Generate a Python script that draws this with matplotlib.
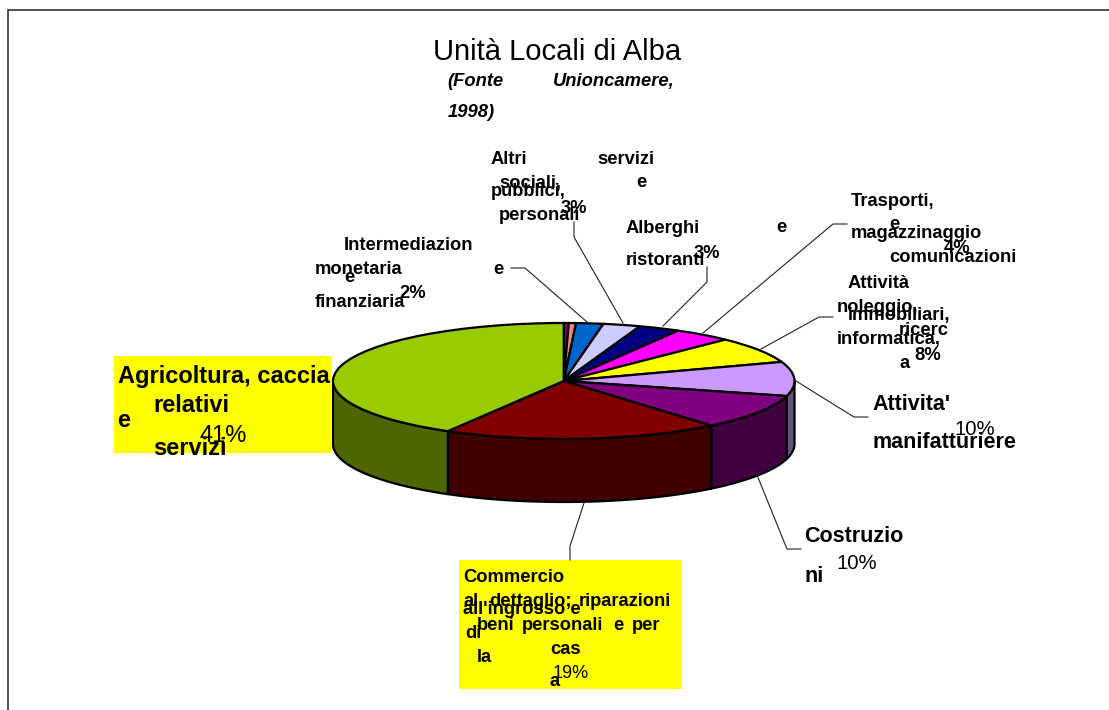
import numpy as np
import matplotlib
matplotlib.use('Agg')
import matplotlib.pyplot as plt
from matplotlib.patches import Rectangle

W, H = 1109, 710
FONT = 'Liberation Sans'

# clockwise from the top of the pie
slice_names = ['Altro', 'Estrazione', 'Intermediazione', 'Altri servizi', 'Alberghi',
               'Trasporti', 'Attivita immobiliari', 'Manifatturiere', 'Costruzioni',
               'Commercio', 'Agricoltura']
slice_values = [0.35, 0.5, 1.9, 2.6, 2.9, 4.1, 7.3, 9.5, 9.8, 19.4, 41.6]
top_colors = ['#800080', '#FF8080', '#0066CC', '#CCCCFF', '#000080', '#FF00FF',
              '#FFFF00', '#CC99FF', '#800080', '#800000', '#99CC00']
side_colors = ['#400040', '#804040', '#003366', '#666680', '#000040', '#800080',
               '#808000', '#665080', '#400040', '#400000', '#4D6600']

title = 'Unità Locali di Alba'
S, M, L = 13.2, 15.5, 17
# text, x, y (pixel, left / baseline), size, bold, italic
labels = [
    ('(Fonte', 447, 86, S, True, True), ('Unioncamere,', 553, 86, S, True, True),
    ('1998)', 448, 117, S, True, True),
    ('Altri', 491, 164, S, True, False), ('servizi', 597, 164, S, True, False),
    ('sociali,', 499, 188, S, True, False), ('e', 636, 187, S, True, False),
    ('pubblici,', 491, 196, S, True, False), ('personali', 499, 220, S, True, False),
    ('3%', 561, 213, S, True, False),
    ('Alberghi', 626, 233, S, True, False), ('e', 776, 232, S, True, False),
    ('ristoranti', 626, 265, S, True, False), ('3%', 694, 258, S, True, False),
    ('Intermediazion', 344, 250, S, True, False), ('monetaria', 315, 274, S, True, False),
    ('e', 493, 274, S, True, False), ('e', 344, 282, S, True, False),
    ('finanziaria', 315, 307, S, True, False), ('2%', 399, 298, S, True, False),
    ('Trasporti,', 851, 206, S, True, False), ('e', 889, 229, S, True, False),
    ('magazzinaggio', 851, 238, S, True, False), ('4%', 944, 253, S, True, False),
    ('comunicazioni', 889, 262, S, True, False),
    ('Attività', 848, 288, S, True, False), ('noleggio,', 837, 312, S, True, False),
    ('immobiliari,', 848, 320, S, True, False), ('ricerc', 899, 335, S, True, False),
    ('informatica,', 837, 344, S, True, False), ('8%', 914, 360, S, True, False),
    ('a', 899, 368, S, True, False),
    ('Attivita\'', 872, 410, M, True, False), ('10%', 955, 435, 14.7, False, False),
    ('manifatturiere', 872, 448, M, True, False),
    ('Costruzio', 804, 542, M, True, False), ('10%', 837, 569, 14.7, False, False),
    ('ni', 804, 582, M, True, False),
    ('Commercio', 463, 582, S, True, False), ('al', 463, 606, S, True, False),
    ('dettaglio;', 489, 606, S, True, False), ('riparazioni', 579, 606, S, True, False),
    ('all\'ingrosso e', 463, 614, S, True, False), ('beni', 477, 630, S, True, False),
    ('personali', 522, 630, S, True, False), ('e', 613, 630, S, True, False),
    ('per', 632, 630, S, True, False), ('di', 465, 638, S, True, False),
    ('cas', 550, 654, S, True, False), ('la', 477, 662, S, True, False),
    ('19%', 553, 678, 13, False, False), ('a', 550, 686, S, True, False),
    ('Agricoltura, caccia', 118, 383, L, True, False), ('relativi', 153, 412, L, True, False),
    ('e', 117, 427, L, True, False), ('41%', 200, 442, L, False, False),
    ('servizi', 153, 455, L, True, False),
]
# leader lines as pixel polylines
leaders = [
    ([511, 525, 587], [268, 268, 322]), ([574, 574, 623], [222, 237, 323]),
    ([707, 707, 663], [267, 282, 326]), ([847, 833, 703], [224, 224, 333]),
    ([833, 819, 761], [317, 317, 349]), ([868, 854, 796], [417, 417, 381]),
    ([801, 787, 757], [549, 549, 475]), ([570, 570, 584], [560, 546, 503]),
]
# yellow label boxes: x, y, w, h
boxes = [(114, 356, 217, 97), (459, 560, 222, 129)]

fig = plt.figure(figsize=(W / 100, H / 100), dpi=100)

# overlay in pixel coordinates for frame, boxes, leaders, text
back = fig.add_axes([0, 0, 1, 1])
back.set_xlim(0, W)
back.set_ylim(H, 0)
back.axis('off')
back.plot([8, 8, W], [H, 10, 10], color='#222222', lw=1.1, solid_joinstyle='miter')
for b in boxes:
    back.add_patch(Rectangle((b[0], b[1]), b[2], b[3], facecolor='#FFFF00', edgecolor='none'))

# pie axes stretched to the ellipse of the top face
x0, x1, y0, y1 = 333, 794.5, 323, 439
depth = 63 / ((y1 - y0) / 2)
ax = fig.add_axes([x0 / W, 1 - y1 / H, (x1 - x0) / W, (y1 - y0) / H])
ax.pie(slice_values, colors=top_colors, startangle=90, counterclock=False, radius=1,
       wedgeprops={'edgecolor': 'black', 'linewidth': 1.6, 'clip_on': False})
ax.set_aspect('auto')
ax.set_xlim(-1, 1)
ax.set_ylim(-1, 1)
ax.axis('off')

# side wall, lower half of the ellipse only
cum = np.cumsum([0] + slice_values) / sum(slice_values)
for i in range(len(slice_values)):
    a = max(cum[i], 0.25) * 2 * np.pi
    b = min(cum[i + 1], 0.75) * 2 * np.pi
    if b <= a:
        continue
    t = np.linspace(a, b, 60)
    xs = np.sin(t)
    ys = np.cos(t)
    ax.fill(np.r_[xs, xs[::-1]], np.r_[ys, ys[::-1] - depth], facecolor=side_colors[i],
            edgecolor='black', linewidth=1.6, clip_on=False, zorder=0.5, joinstyle='round')

# leaders and text go over everything
front = fig.add_axes([0, 0, 1, 1])
front.set_xlim(0, W)
front.set_ylim(H, 0)
front.axis('off')
for xs, ys in leaders:
    front.plot(xs, ys, color='#222222', lw=0.8)

front.text(433, 60, title, family=FONT, fontsize=21, ha='left', va='baseline', color='black')
for txt, x, y, size, bold, italic in labels:
    front.text(x, y, txt, family=FONT, fontsize=size, va='baseline', color='black',
               fontweight='bold' if bold else 'normal', fontstyle='italic' if italic else 'normal')

fig.savefig('out.png', dpi=100)
